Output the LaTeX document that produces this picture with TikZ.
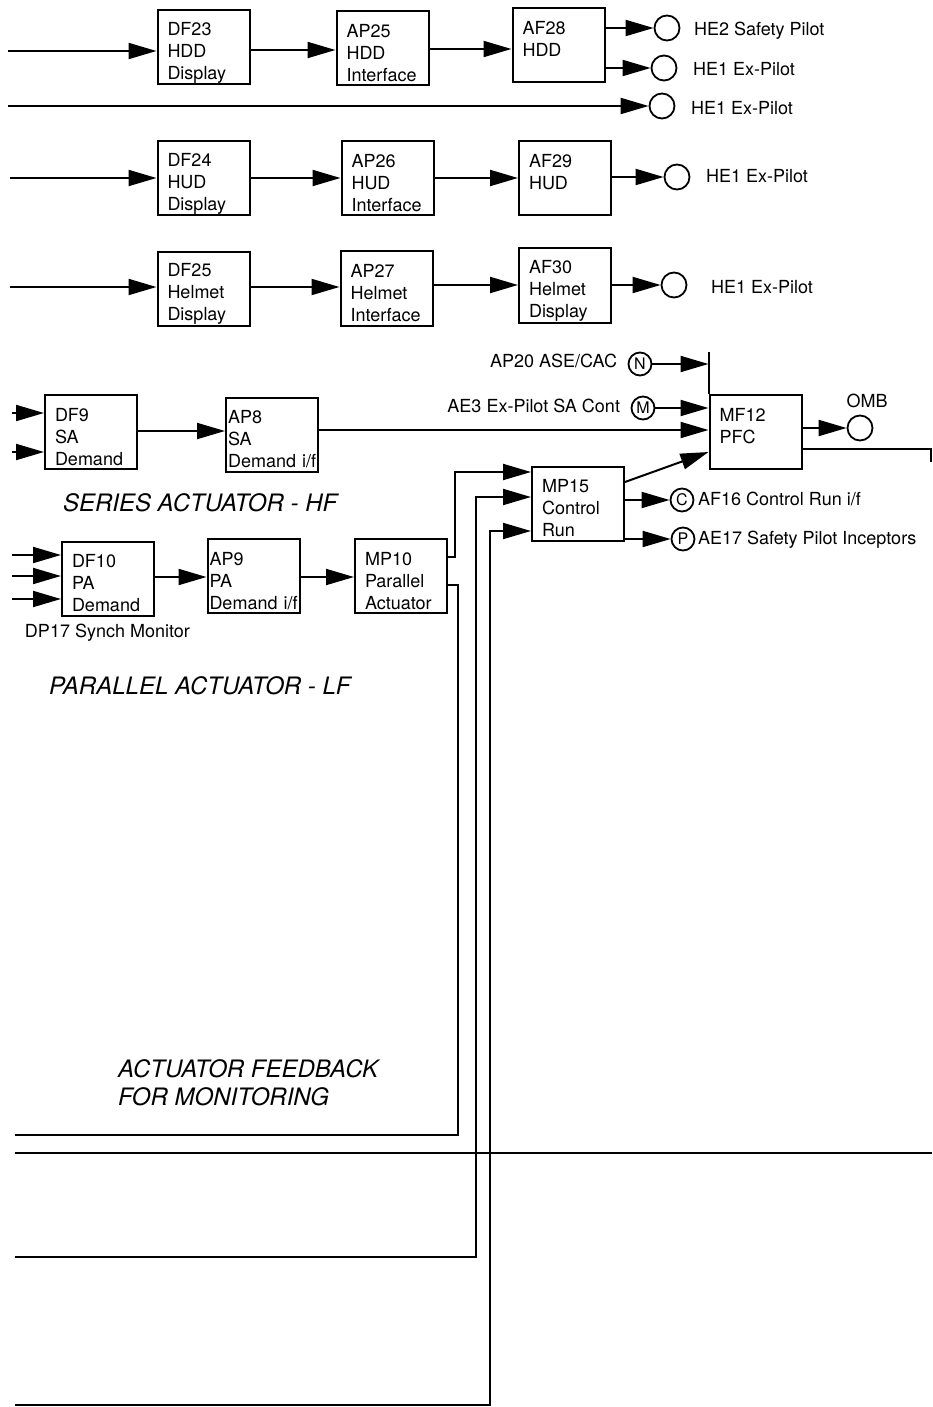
\documentclass[tikz,border=0pt]{standalone}
\usepackage{fontspec}
\setmainfont{TeX Gyre Heros}
\usetikzlibrary{arrows.meta}

\tikzset{
  box/.style={draw,minimum width=46pt,minimum height=37pt,text width=36pt,inner xsep=5pt,inner ysep=0pt,align=left,font=\fontsize{9}{11}\selectfont,execute at begin node={\rule{0pt}{11.5pt}}},
  tightbox/.style={box,inner xsep=1pt,text width=44pt},
  flow/.style={-{Triangle[length=14pt,width=8pt]}},
  io/.style={draw,circle,line width=0.9pt,minimum size=12.5pt,inner sep=0pt},
  tag/.style={draw,circle,line width=0.9pt,minimum size=11.5pt,inner sep=0pt,font=\fontsize{8}{9}\selectfont},
  lbl/.style={inner sep=0pt,font=\fontsize{9}{11}\selectfont},
  heading/.style={inner sep=0pt,align=left,font=\fontsize{12}{14}\selectfont\itshape}
}

\begin{document}
\begin{tikzpicture}[x=0.5pt,y=-0.5pt,line width=1pt]
\useasboundingbox (0,0) rectangle (932,1407);
% display chains
\node[box] (DF23) at (203.5,47.5) {DF23\\HDD\\Display};
\node[box] (AP25) at (382.5,48) {AP25\\HDD\\Interface};
\node[box] (AF28) at (558.5,45.5) {AF28\\HDD\\\mbox{}};
\node[box] (DF24) at (203.5,178.5) {DF24\\HUD\\Display};
\node[box] (AP26) at (387.5,178.5) {AP26\\HUD\\Interface};
\node[box] (AF29) at (565,178) {AF29\\HUD\\\mbox{}};
\node[box] (DF25) at (203.5,289) {DF25\\Helmet\\Display};
\node[box] (AP27) at (386.5,288.5) {AP27\\Helmet\\Interface};
\node[box] (AF30) at (565,285.5) {AF30\\Helmet\\Display};
% actuator chains
\node[box] (DF9) at (91,432) {DF9\\SA\\Demand};
\node[tightbox] (AP8) at (272,434.5) {AP8\\SA\\\mbox{Demand i/f}};
\node[box] (MF12) at (755.5,431.5) {MF12\\PFC\\\mbox{}};
\node[box] (MP15) at (578,503.5) {MP15\\Control\\Run};
\node[box] (DF10) at (108,578.5) {DF10\\PA\\Demand};
\node[tightbox] (AP9) at (253.5,576) {AP9\\PA\\\mbox{Demand i/f}};
\node[box] (MP10) at (401,576) {MP10\\Parallel\\Actuator};
% terminals
\node[io] (HE2) at (667,28) {}; \node[io] (HE1a) at (664,68) {}; \node[io] (HE1b) at (662,106) {};
\node[io] (HE1c) at (677,177) {}; \node[io] (HE1d) at (674,285) {}; \node[io] (OMB) at (860,428) {};
\node[tag] (N) at (640,364) {N}; \node[tag] (M) at (643,408) {M};
\node[tag] (C) at (682,500) {C}; \node[tag] (P) at (683,539) {P};
% texts
\foreach \n/\x/\y/\t in {tHE2/693/31/HE2 Safety Pilot,tHE1a/692/69/HE1 Ex-Pilot,tHE1b/690/108/HE1 Ex-Pilot,tHE1c/705/176/HE1 Ex-Pilot,tHE1d/710/287/HE1 Ex-Pilot,tAE17/697/540/AE17 Safety Pilot Inceptors,tDP17/24/633/DP17 Synch Monitor}
  {\node[lbl,anchor=west] (\n) at (\x,\y) {\t};}
\node[lbl,anchor=west] (tAF16) at (697,499) {AF16 Control Run i/f};
\node[lbl,anchor=east] (tAP20) at (618,361) {AP20 ASE/CAC};
\node[lbl,anchor=east] (tAE3) at (621,406) {AE3 Ex-Pilot SA Cont};
\node[lbl] (tOMB) at (867,401) {OMB};
\node[heading,anchor=west] (series) at (62,503) {SERIES ACTUATOR - HF};
\node[heading,anchor=west] (parallel) at (48,686) {PARALLEL ACTUATOR - LF};
\node[heading,anchor=west] (feedback) at (117,1083) {ACTUATOR FEEDBACK\\FOR MONITORING};
% free ends
\coordinate (i1) at (8,51); \coordinate (i2) at (8,106); \coordinate (i3) at (10,178); \coordinate (i4) at (10,287);
\coordinate (f1) at (15,1135); \coordinate (f2) at (15,1257); \coordinate (f3) at (15,1405);
\coordinate (r1) at (931,449); \coordinate (s1) at (15,1153); \coordinate (s2) at (932,1153);
% connectors
\draw[flow] (i1) -- (DF23.west |- i1);
\draw[flow] (DF23.east |- 0,50) -- (AP25.west |- 0,50);
\draw[flow] (AP25.east |- 0,49) -- (AF28.west |- 0,49);
\draw[flow] (AF28.east |- HE2) -- (HE2);
\draw[flow] (AF28.east |- HE1a) -- (HE1a);
\draw[flow] (i2) -- (HE1b);
\draw[flow] (i3) -- (DF24.west |- i3);
\draw[flow] (DF24.east |- 0,178) -- (AP26.west |- 0,178);
\draw[flow] (AP26.east |- 0,178) -- (AF29.west |- 0,178);
\draw[flow] (AF29.east |- HE1c) -- (HE1c);
\draw[flow] (i4) -- (DF25.west |- i4);
\draw[flow] (DF25.east |- 0,287) -- (AP27.west |- 0,287);
\draw[flow] (AP27.east |- 0,285) -- (AF30.west |- 0,285);
\draw[flow] (AF30.east |- HE1d) -- (HE1d);
\foreach \y in {413,452} {\draw[flow] (12,\y) -- (DF9.west |- 0,\y);}
\draw[flow] (DF9.east |- 0,431) -- (AP8.west |- 0,431);
\draw[flow] (AP8.east |- 0,430) -- (MF12.west |- 0,430);
\draw (MF12.north west) -- (MF12.west |- 0,352);
\draw[flow] (N) -- (MF12.west |- N);
\draw[flow] (M) -- (MF12.west |- M);
\draw[flow] (MF12.east |- OMB) -- (OMB);
\draw (MF12.east |- r1) -- (r1) -- ++(0,13);
\foreach \y in {555,576,599} {\draw[flow] (12,\y) -- (DF10.west |- 0,\y);}
\draw[flow] (DF10.east |- 0,577) -- (AP9.west |- 0,577);
\draw[flow] (AP9.east |- 0,577) -- (MP10.west |- 0,577);
\draw[flow] (MP10.east |- 0,557) -| (455,472) -- (MP15.west |- 0,472);
\draw (MP10.east |- 0,585) -| (458,1135) -- (f1);
\draw[flow] (f2) -| (476,497) -- (MP15.west |- 0,497);
\draw[flow] (f3) -| (490,531) -- (MP15.west |- 0,531);
\draw[flow] (MP15.east |- 0,482) -- (MF12.west |- 0,452);
\draw[flow] (MP15.east |- C) -- (C);
\draw[flow] (MP15.east |- P) -- (P);
\draw (s1) -- (s2);
\end{tikzpicture}
\end{document}
